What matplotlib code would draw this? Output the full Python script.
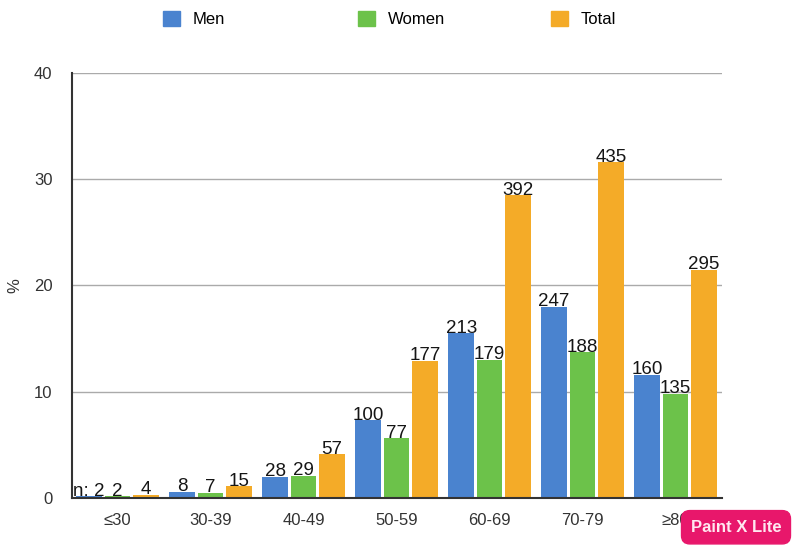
import matplotlib
matplotlib.use("Agg")
import matplotlib.pyplot as plt
import matplotlib.patches as mpatches
import numpy as np

categories = ["≤30", "30-39", "40-49", "50-59", "60-69", "70-79", "≥80"]
men_pct = [0.15, 0.6, 2.0, 7.3, 15.5, 18.0, 11.6]
women_pct = [0.15, 0.5, 2.1, 5.6, 13.0, 13.7, 9.8]
total_pct = [0.3, 1.1, 4.1, 12.9, 28.5, 31.6, 21.5]
men_n = ["n: 2", "8", "28", "100", "213", "247", "160"]
women_n = ["2", "7", "29", "77", "179", "188", "135"]
total_n = ["4", "15", "57", "177", "392", "435", "295"]
y_ticks = [0, 10, 20, 30, 40]

c_men = "#4a83cf"
c_women = "#6cc24a"
c_total = "#f4ab28"

plt.rcParams['font.family'] = ['Liberation Sans', 'DejaVu Sans']

fig = plt.figure(figsize=(8, 5.55), dpi=100)
ax = fig.add_axes([0.09, 0.1027, 0.8125, 0.7658])

x = np.arange(len(categories))
w = 0.275
off = 0.305
series = [(men_pct, men_n, c_men, -off), (women_pct, women_n, c_women, 0), (total_pct, total_n, c_total, off)]
for vals, labs, col, o in series:
    bars = ax.bar(x + o, vals, width=w, color=col, zorder=3)
    for b, lab in zip(bars, labs):
        ax.annotate(lab, (b.get_x() + b.get_width() / 2, b.get_height()),
                    xytext=(0, -2.5), textcoords="offset points",
                    ha="center", va="bottom", fontsize=13.5, color="#151515", zorder=5)

ax.set_xlim(-0.49, 6.5)
ax.set_ylim(0, 40)
ax.set_yticks(y_ticks)
ax.set_xticks(x)
ax.set_xticklabels(categories)
ax.tick_params(axis="both", length=0, labelsize=12, colors="#333333")
ax.tick_params(axis="y", pad=14)
ax.tick_params(axis="x", pad=11)
ax.yaxis.grid(True, color="#aaaaaa", linewidth=1, zorder=0)
for s in ["top", "right"]:
    ax.spines[s].set_visible(False)
for s in ["left", "bottom"]:
    ax.spines[s].set_color("#333333")
    ax.spines[s].set_linewidth(1.5)
    ax.spines[s].set_zorder(4)
ax.set_ylabel("%", fontsize=12, color="#333333", labelpad=8)

# legend entries
for xpos, lab, col in [(0.1955, "Men", c_men), (0.4395, "Women", c_women), (0.6805, "Total", c_total)]:
    fig.legend(handles=[mpatches.Patch(color=col, label=lab)], loc="center left",
               bbox_to_anchor=(xpos, 0.966), frameon=False, fontsize=12,
               handlelength=1.0, handleheight=1.0, handletextpad=0.8, borderaxespad=0)

# watermark
fig.text(0.92, 0.05, "Paint X Lite", ha="center", va="center", fontsize=12,
         fontweight="bold", color="#ffe8f0",
         bbox=dict(boxstyle="round,pad=0.55,rounding_size=0.5", fc="#e8176b", ec="#e8176b"))

fig.savefig("out.png", dpi=100)
